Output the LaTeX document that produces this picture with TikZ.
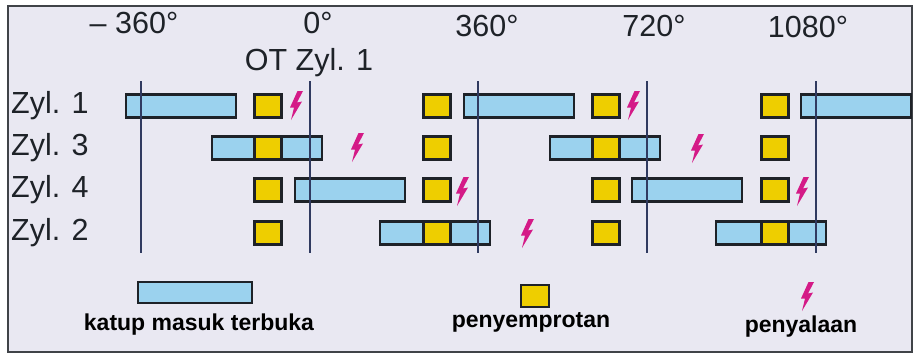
\documentclass[tikz,border=0pt]{standalone}
\usepackage{fontspec}
\setmainfont{Liberation Sans}
\definecolor{hgrund}{RGB}{233,232,242}
\definecolor{einlass}{RGB}{155,210,238}
\definecolor{spritz}{RGB}{238,206,0}
\definecolor{funke}{RGB}{212,26,135}
\definecolor{linie}{RGB}{48,58,96}
\definecolor{rand}{RGB}{30,34,40}
\tikzset{
  ventil/.style={draw=rand, line width=2.4pt, fill=einlass},
  duese/.style={draw=rand, line width=2.4pt, fill=spritz},
  otlinie/.style={draw=linie, line width=1.3pt},
  lbl/.style={font=\fontsize{30.5}{32}\selectfont, inner sep=0pt, text=rand},
  leg/.style={font=\bfseries\fontsize{23}{25}\selectfont, inner sep=0pt, text=black},
  blitz/.pic={\fill[funke] (1.5,-14) -- (7,-14) -- (1,-2.5) -- (6,-3.5) -- (-5,15) -- (-2,2.5) -- (-6,2.5) -- cycle;}
}
\begin{document}
\begin{tikzpicture}[x=1pt,y=-1pt]
    \fill[white] (0,0) rectangle (913,356);
    \useasboundingbox (0,0) rectangle (913,356);
    \fill[hgrund] (8,6) rectangle (912,352);
    \draw[rand!85, line width=1.5pt] (8,6) rectangle (912,352);
    % Winkel oben
    \node[lbl, anchor=base] (m360) at (134,34) {– 360°};
    \node[lbl, anchor=base] (g0) at (318,34) {0°};
    \node[lbl, anchor=base] (ot) at (309,70) {OT Zyl. 1};
    \node[lbl, anchor=base] (g360) at (487,36) {360°};
    \node[lbl, anchor=base] (g720) at (654,36) {720°};
    \node[lbl, anchor=base] (g1080) at (808,37) {1080°};
    % Zylinder
    \node[lbl, anchor=base west] (z1) at (11,113) {Zyl. 1};
    \node[lbl, anchor=base west] (z3) at (11,155) {Zyl. 3};
    \node[lbl, anchor=base west] (z4) at (11,197) {Zyl. 4};
    \node[lbl, anchor=base west] (z2) at (11,240) {Zyl. 2};
    % Einlass offen
    \foreach \x/\y in {126/106, 464/106, 801/106, 212/148, 550/148,
                       295/190, 632/190, 380/233, 716/233}
        \draw[ventil] (\x,\y-11.5) rectangle ++(110,23);
    % Einspritzung
    \foreach \y in {106,148,190,233}
        \foreach \x in {268,437,606,775}
            \draw[duese] (\x-13.5,\y-11.5) rectangle ++(27,23);
    % OT
    \foreach \x in {141,310,478,647,816}
        \draw[otlinie] (\x,81) -- (\x,253);
    % Zuendung
    \foreach \x/\y in {296/105, 633/105, 357/147, 697/148,
                       462/191, 802/191, 527/233}
        \pic at (\x,\y) {blitz};
    % Legende
    \draw[ventil] (138,282) rectangle (252,303);
    \draw[duese] (521,285) rectangle (549,307);
    \pic at (807,296) {blitz};
    \node[leg, anchor=base] (lv) at (199,330) {katup masuk terbuka};
    \node[leg, anchor=base] (ls) at (531,327) {penyemprotan};
    \node[leg, anchor=base] (lz) at (801,332) {penyalaan};
\end{tikzpicture}
\end{document}
